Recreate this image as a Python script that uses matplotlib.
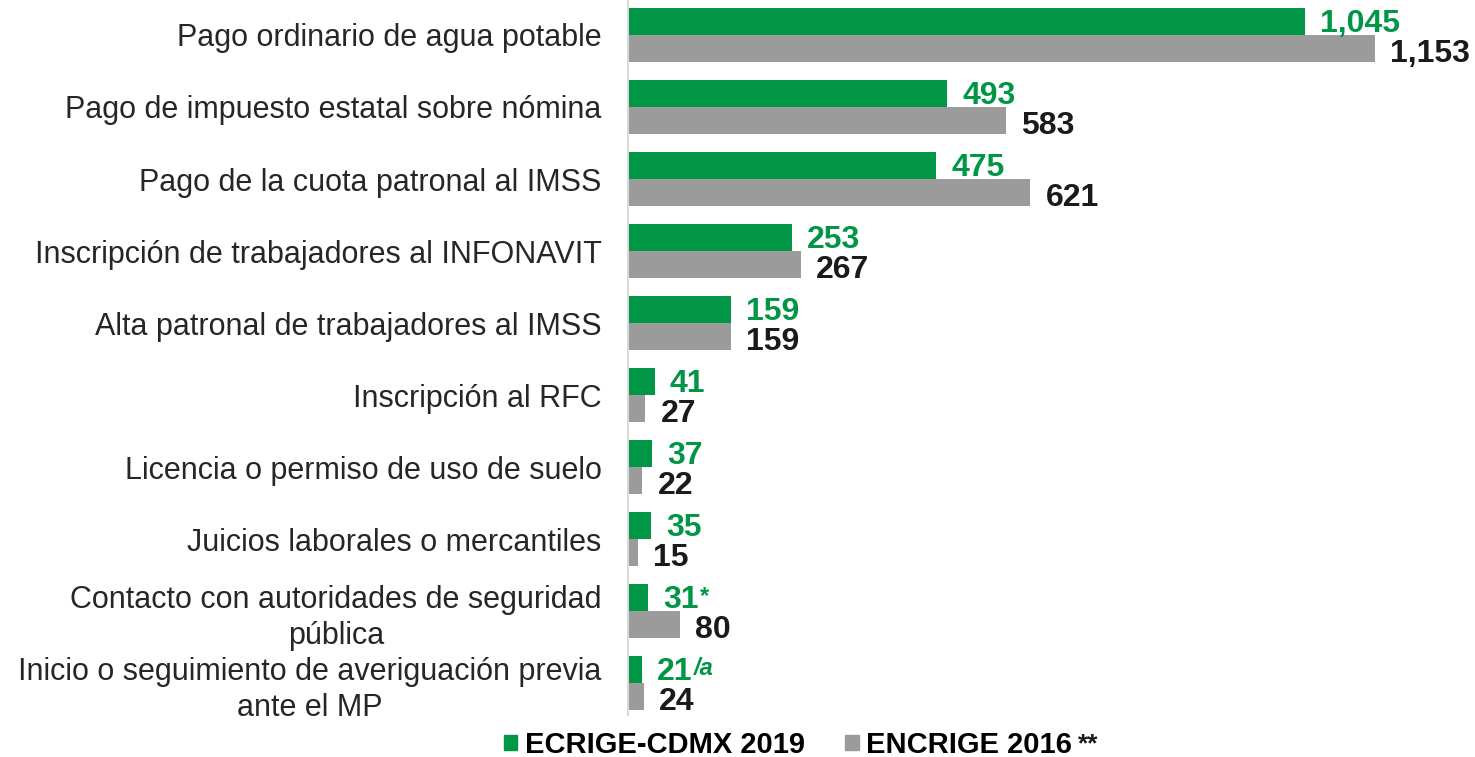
import numpy as np
import matplotlib
matplotlib.use("Agg")
import matplotlib.pyplot as plt
from matplotlib.patches import Patch

categories = [
    "Pago ordinario de agua potable",
    "Pago de impuesto estatal sobre nómina",
    "Pago de la cuota patronal al IMSS",
    "Inscripción de trabajadores al INFONAVIT",
    "Alta patronal de trabajadores al IMSS",
    "Inscripción al RFC",
    "Licencia o permiso de uso de suelo",
    "Juicios laborales o mercantiles",
    "Contacto con autoridades de seguridad\npública",
    "Inicio o seguimiento de averiguación previa\nante el MP",
]
ecrige_2019 = [1045, 493, 475, 253, 159, 41, 37, 35, 31, 21]
encrige_2016 = [1153, 583, 621, 267, 159, 27, 22, 15, 80, 24]
marks_2019 = ["", "", "", "", "", "", "", "", "*", "/a"]
series_names = ["ECRIGE-CDMX 2019", "ENCRIGE 2016"]

GREEN = "#009645"
GRAY = "#9B9B9B"
FONT = "Liberation Sans"

fig = plt.figure(figsize=(14.75, 7.57), dpi=100)
ax = fig.add_axes([628 / 1475, 1 - 715 / 757, 1 - 628 / 1475, 715 / 757])

y = np.arange(len(categories))
h = 0.375
ax.barh(y - h / 2, ecrige_2019, height=h, color=GREEN)
ax.barh(y + h / 2, encrige_2016, height=h, color=GRAY)

ax.set_xlim(0, 1307)
ax.set_ylim(9.444, -0.486)

# value labels: green above (2019), black below (2016)
num_kw = dict(textcoords="offset points", ha="left", va="baseline",
              fontsize=23, family=FONT, fontweight="bold")
for i, (a, b) in enumerate(zip(ecrige_2019, encrige_2016)):
    t = ax.annotate(f"{a:,}", xy=(a, i - h / 2), xytext=(11, -7.5), color=GREEN, **num_kw)
    if marks_2019[i]:
        ax.annotate(marks_2019[i], xy=(1, 1), xycoords=t, xytext=(1, 0),
                    textcoords="offset points", ha="left", va="top", color=GREEN,
                    fontsize=17, family=FONT, fontweight="bold",
                    fontstyle="italic" if marks_2019[i] == "/a" else "normal")
    ax.annotate(f"{b:,}", xy=(b, i + h / 2), xytext=(11, -9.5), color="#1A1A1A", **num_kw)

ax.set_yticks(y, labels=categories)
ax.tick_params(axis="y", length=0, pad=19, labelsize=22, labelcolor="#262626")
for lbl in ax.get_yticklabels():
    lbl.set_family(FONT)
    lbl.set_multialignment("center")
    lbl.set_linespacing(1.3)
ax.set_xticks([])
for s in ["top", "right", "bottom"]:
    ax.spines[s].set_visible(False)
ax.spines["left"].set_color("#D9D9D9")
ax.spines["left"].set_linewidth(1.5)

handles = [Patch(color=GREEN), Patch(color=GRAY)]
leg = fig.legend(handles, series_names, loc="center", bbox_to_anchor=(788 / 1475, 1 - 745 / 757),
                 ncol=2, frameon=False, handlelength=0.45, handleheight=0.45, handletextpad=0.25,
                 columnspacing=1.4, borderpad=0.1,
                 prop={"family": FONT, "weight": "bold", "size": 21})

fig.canvas.draw()
ext = leg.get_texts()[1].get_window_extent()
fig.text((ext.x1 + 6) / 1475, (ext.y1 - 1) / 757, "**", ha="left", va="top",
         color="#1A1A1A", fontsize=19, family=FONT, fontweight="bold")

fig.savefig("out.png", dpi=100)
